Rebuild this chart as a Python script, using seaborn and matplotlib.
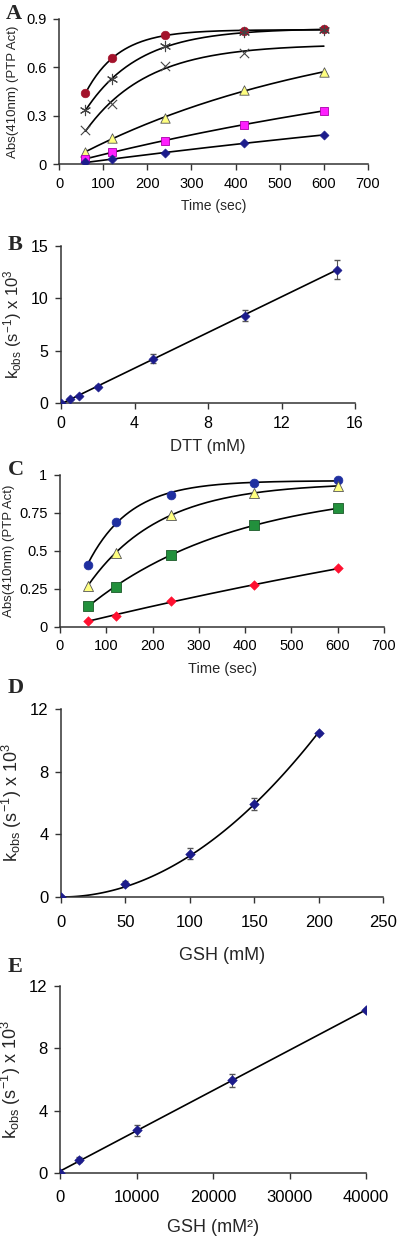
import numpy as np
import pandas as pd
import matplotlib
matplotlib.use("Agg")
import matplotlib.pyplot as plt
import seaborn as sns

# ---------------- data ----------------
time_s = [60, 120, 240, 420, 600]

a_circle = [0.44, 0.655, 0.80, 0.825, 0.835]
a_star = [0.335, 0.525, 0.73, 0.82, 0.83]
a_cross_t = [60, 120, 240, 420]
a_cross = [0.21, 0.375, 0.61, 0.69]
a_cross_end = 0.735
a_tri = [0.075, 0.16, 0.285, 0.46, 0.57]
a_square = [0.03, 0.075, 0.145, 0.245, 0.33]
a_diamond = [0.01, 0.03, 0.07, 0.13, 0.18]

dtt_mM = [0, 0.5, 1, 2, 5, 10, 15]
dtt_kobs = [0, 0.35, 0.7, 1.55, 4.25, 8.35, 12.75]
dtt_err = [0.05, 0.1, 0.1, 0.15, 0.4, 0.5, 0.9]

c_circle = [0.41, 0.69, 0.87, 0.95, 0.97]
c_tri = [0.27, 0.49, 0.735, 0.88, 0.93]
c_square = [0.135, 0.265, 0.475, 0.67, 0.78]
c_diamond = [0.04, 0.075, 0.17, 0.275, 0.385]

gsh_mM = [0, 50, 100, 150, 200]
gsh_sq = [0, 2500, 10000, 22500, 40000]
gsh_kobs = [0, 0.85, 2.75, 5.95, 10.45]
gsh_err = [0.05, 0.15, 0.35, 0.4, 0.1]

# ---------------- style ----------------
sns.set_style("ticks")
plt.rcParams["font.family"] = ["Liberation Sans", "DejaVu Sans"]
plt.rcParams["mathtext.default"] = "regular"
plt.rcParams["axes.edgecolor"] = "#333333"
plt.rcParams["xtick.color"] = "#333333"
plt.rcParams["ytick.color"] = "#333333"
plt.rcParams["xtick.labelcolor"] = "black"
plt.rcParams["ytick.labelcolor"] = "black"

W, H = 400, 1240
fig = plt.figure(figsize=(W / 100, H / 100), dpi=100)


def box(l, r, t, b):
    return [l / W, 1 - b / H, (r - l) / W, (b - t) / H]


def exp_fit(t, y):
    t = np.asarray(t, float)
    y = np.asarray(y, float)
    best = None
    for k in np.logspace(-4.5, -1.3, 600):
        M = np.column_stack([np.ones_like(t), -np.exp(-k * t)])
        coef, *_ = np.linalg.lstsq(M, y, rcond=None)
        sse = np.sum((M @ coef - y) ** 2)
        if best is None or sse < best[0]:
            best = (sse, k, coef)
    _, k, (A, B) = best
    return lambda x: A - B * np.exp(-k * x)


def style_ax(ax, fs):
    sns.despine(ax=ax)
    ax.tick_params(direction="out", length=4, width=1, labelsize=fs, pad=5)
    for s in ("left", "bottom"):
        ax.spines[s].set_linewidth(1.1)


def kinetic_curve(ax, t, y, t_end=None, y_end=None):
    tt = list(t)
    yy = list(y)
    if t_end is not None:
        tt = tt + [t_end]
        yy = yy + [y_end]
    f = exp_fit(tt, yy)
    xs = np.linspace(60, 600, 200)
    sns.lineplot(x=xs, y=f(xs), ax=axes_cur[0], color="black", lw=1.2, zorder=2)


axes_cur = [None]


def panel_letter(x, y, s):
    fig.text(x / W, 1 - y / H, s, family=["Liberation Serif"], fontweight="bold",
             fontsize=16, ha="left", va="center")


kobs_label = r"k$_{obs}$ (s$^{-1}$) x 10$^{3}$"

# ---------------- Panel A ----------------
axA = fig.add_axes(box(59, 368, 19, 164))
axes_cur[0] = axA
kinetic_curve(axA, time_s, a_circle)
kinetic_curve(axA, time_s, a_star)
kinetic_curve(axA, a_cross_t, a_cross, 600, a_cross_end)
kinetic_curve(axA, time_s, a_tri)
kinetic_curve(axA, time_s, a_square)
kinetic_curve(axA, time_s, a_diamond)
ms = 38
sns.scatterplot(x=time_s, y=a_circle, ax=axA, marker="o", s=ms, color="#A3122B",
                edgecolor="#A3122B", zorder=3)
axA.scatter(time_s, a_star, marker=(6, 2, 0), s=55, color="#444444", linewidth=0.8, zorder=4)
axA.scatter(a_cross_t, a_cross, marker="x", s=45, color="#444444", linewidth=0.8, zorder=3)
sns.scatterplot(x=time_s, y=a_tri, ax=axA, marker="^", s=ms + 8, color="#FFFF80",
                edgecolor="#555555", linewidth=0.6, zorder=3)
sns.scatterplot(x=time_s, y=a_square, ax=axA, marker="s", s=ms, color="#FF1FFF",
                edgecolor="#AA00AA", linewidth=0.6, zorder=3)
sns.scatterplot(x=time_s, y=a_diamond, ax=axA, marker="D", s=22, color="#1C1C8C",
                edgecolor="#1C1C8C", zorder=3)
axA.set_xlim(0, 700)
axA.set_ylim(0, 0.9)
axA.set_xticks(range(0, 701, 100))
axA.set_yticks([0, 0.3, 0.6, 0.9])
axA.set_yticklabels(["0", "0.3", "0.6", "0.9"])
style_ax(axA, 10.5)
axA.set_xlabel("Time (sec)", fontsize=10, labelpad=6)
axA.set_ylabel("Abs(410nm) (PTP Act)", fontsize=9.5, labelpad=5)
panel_letter(6, 14, "A")

# ---------------- Panel B ----------------
axB = fig.add_axes(box(61, 355, 246, 403))
slopeB = np.polyfit(dtt_mM, dtt_kobs, 1)
xsB = np.linspace(0, 15, 50)
sns.lineplot(x=xsB, y=np.polyval(slopeB, xsB), ax=axB, color="black", lw=1.2, zorder=2)
axB.errorbar(dtt_mM, dtt_kobs, yerr=dtt_err, fmt="none", ecolor="#555555",
             elinewidth=0.8, capsize=2, zorder=3)
sns.scatterplot(x=dtt_mM, y=dtt_kobs, ax=axB, marker="D", s=22, color="#1C1C8C",
                edgecolor="#1C1C8C", zorder=4)
axB.set_xlim(0, 16)
axB.set_ylim(0, 15)
axB.set_xticks([0, 4, 8, 12, 16])
axB.set_yticks([0, 5, 10, 15])
style_ax(axB, 11.5)
axB.set_xlabel("DTT (mM)", fontsize=12, labelpad=6)
axB.set_ylabel(kobs_label, fontsize=12, labelpad=5)
panel_letter(8, 245, "B")

# ---------------- Panel C ----------------
axC = fig.add_axes(box(60, 384, 475, 627))
axes_cur[0] = axC
kinetic_curve(axC, time_s, c_circle)
kinetic_curve(axC, time_s, c_tri)
kinetic_curve(axC, time_s, c_square)
kinetic_curve(axC, time_s, c_diamond)
sns.scatterplot(x=time_s, y=c_circle, ax=axC, marker="o", s=40, color="#1F2FA0",
                edgecolor="#1F2FA0", zorder=3)
sns.scatterplot(x=time_s, y=c_tri, ax=axC, marker="^", s=52, color="#FFFF80",
                edgecolor="#555555", linewidth=0.6, zorder=3)
sns.scatterplot(x=time_s, y=c_square, ax=axC, marker="s", s=48, color="#22903C",
                edgecolor="#1A5A28", linewidth=0.6, zorder=3)
sns.scatterplot(x=time_s, y=c_diamond, ax=axC, marker="D", s=24, color="#FF1030",
                edgecolor="#FF1030", zorder=3)
axC.set_xlim(0, 700)
axC.set_ylim(0, 1)
axC.set_xticks(range(0, 701, 100))
axC.set_yticks([0, 0.25, 0.5, 0.75, 1])
axC.set_yticklabels(["0", "0.25", "0.5", "0.75", "1"])
style_ax(axC, 10.5)
axC.set_xlabel("Time (sec)", fontsize=10.5, labelpad=6)
axC.set_ylabel("Abs(410nm) (PTP Act)", fontsize=9.5, labelpad=3)
panel_letter(8, 470, "C")

# ---------------- Panel D ----------------
axD = fig.add_axes(box(61, 383, 709, 897))
x_arr = np.asarray(gsh_mM, float)
y_arr = np.asarray(gsh_kobs, float)
aD = np.sum(x_arr ** 2 * y_arr) / np.sum(x_arr ** 4)
xsD = np.linspace(0, 200, 100)
sns.lineplot(x=xsD, y=aD * xsD ** 2, ax=axD, color="black", lw=1.2, zorder=2)
axD.errorbar(gsh_mM, gsh_kobs, yerr=gsh_err, fmt="none", ecolor="#555555",
             elinewidth=0.8, capsize=2, zorder=3)
sns.scatterplot(x=gsh_mM, y=gsh_kobs, ax=axD, marker="D", s=24, color="#1C1C8C",
                edgecolor="#1C1C8C", zorder=4)
axD.set_xlim(0, 250)
axD.set_ylim(0, 12)
axD.set_xticks(range(0, 251, 50))
axD.set_yticks([0, 4, 8, 12])
style_ax(axD, 12)
axD.tick_params(axis="x", pad=9)
axD.set_xlabel("GSH (mM)", fontsize=13, labelpad=12)
axD.set_ylabel(kobs_label, fontsize=13, labelpad=4)
panel_letter(8, 688, "D")

# ---------------- Panel E ----------------
axE = fig.add_axes(box(60, 366, 986, 1173))
pE = np.polyfit(gsh_sq, gsh_kobs, 1)
xsE = np.linspace(0, 40000, 50)
sns.lineplot(x=xsE, y=np.polyval(pE, xsE), ax=axE, color="black", lw=1.2, zorder=2)
axE.errorbar(gsh_sq, gsh_kobs, yerr=gsh_err, fmt="none", ecolor="#555555",
             elinewidth=0.8, capsize=2, zorder=3)
sns.scatterplot(x=gsh_sq, y=gsh_kobs, ax=axE, marker="D", s=24, color="#1C1C8C",
                edgecolor="#1C1C8C", zorder=4)
axE.set_xlim(0, 40000)
axE.set_ylim(0, 12)
axE.set_xticks(range(0, 40001, 10000))
axE.set_yticks([0, 4, 8, 12])
axE.set_yticklabels(["0", "4", "8", "12"])
style_ax(axE, 12)
axE.tick_params(axis="x", pad=8)
axE.set_xlabel("GSH (mM\u00b2)", fontsize=13, labelpad=10)
axE.set_ylabel(kobs_label, fontsize=13, labelpad=4)
panel_letter(8, 967, "E")

fig.savefig("out.png", dpi=100)
